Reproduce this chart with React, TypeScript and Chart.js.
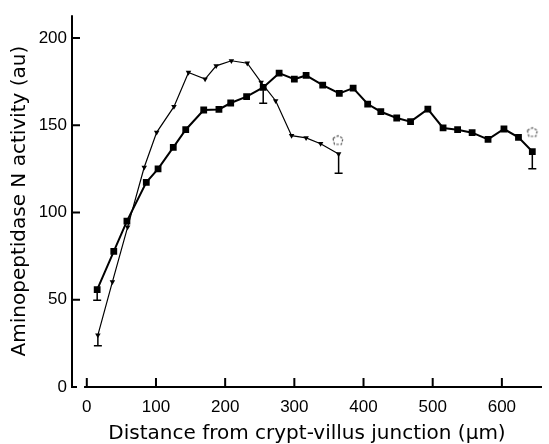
import React, { useEffect, useRef } from 'react';
import { Chart, registerables } from 'chart.js';

Chart.register(...registerables);

// Square series (long profile)
const squareX = [15, 39, 58, 86, 103, 125, 143, 169, 191, 208, 231, 255, 278, 300, 317, 341, 365, 385, 406, 425, 448, 468, 493, 515, 536, 557, 580, 603, 624, 644];
const squareY = [55.8, 77.7, 95, 117.2, 125, 137.3, 147.4, 158.7, 159, 162.7, 166.3, 171.6, 179.8, 176.4, 178.5, 172.9, 168.2, 171.2, 162.1, 157.7, 154.1, 152, 159.2, 148.4, 147.4, 145.7, 141.9, 147.8, 143, 134.9];

// Triangle series (short profile)
const triangleX = [16, 37, 59, 83, 101, 126, 147, 171, 187, 209, 232, 252, 273, 296, 317, 338, 364];
const triangleY = [29.7, 60.2, 91.6, 125.9, 145.9, 160.6, 180.2, 176.4, 184, 186.9, 185.5, 174.5, 164, 144, 142.7, 139.4, 133.5];

// Open (dashed) markers
const openX = [363, 644];
const openY = [141.3, 145.9];

// Error bars
const errX = [15, 255, 644, 16, 364];
const errLow = [49.7, 162.5, 125, 23.6, 122.4];
const errHigh = [55.8, 170, 134.9, 29.7, 133.5];

// Axis ticks
const xTicks = [0, 100, 200, 300, 400, 500, 600];
const yTicks = [0, 50, 100, 150, 200];

const xTitle = 'Distance from crypt-villus junction (\u03BCm)';
const yTitle = 'Aminopeptidase N activity (au)';

function makeOpenMarker(): HTMLCanvasElement {
  const c = document.createElement('canvas');
  c.width = 14;
  c.height = 12;
  const ctx = c.getContext('2d')!;
  ctx.strokeStyle = '#555';
  ctx.lineWidth = 1.2;
  ctx.setLineDash([2.5, 1.5]);
  ctx.beginPath();
  ctx.moveTo(2, 4);
  ctx.lineTo(7, 1.5);
  ctx.lineTo(12, 4);
  ctx.lineTo(10.5, 10);
  ctx.lineTo(3.5, 10);
  ctx.closePath();
  ctx.stroke();
  return c;
}

const axesPlugin = {
  id: 'customAxes',
  afterDatasetsDraw(chart: any) {
    const { ctx, chartArea } = chart;
    const xs = chart.scales.x;
    const ys = chart.scales.y;
    ctx.save();
    ctx.strokeStyle = '#000';
    ctx.lineWidth = 2;
    ctx.lineCap = 'butt';
    // y axis line with small foot
    ctx.beginPath();
    ctx.moveTo(chartArea.left, chartArea.top);
    ctx.lineTo(chartArea.left, chartArea.bottom);
    ctx.lineTo(chartArea.left + 5, chartArea.bottom);
    ctx.stroke();
    // x axis line (offset start)
    ctx.beginPath();
    ctx.moveTo(xs.getPixelForValue(-4), chartArea.bottom);
    ctx.lineTo(chartArea.right, chartArea.bottom);
    ctx.stroke();
    // inward ticks
    ctx.beginPath();
    xTicks.forEach((v) => {
      const px = xs.getPixelForValue(v);
      ctx.moveTo(px, chartArea.bottom);
      ctx.lineTo(px, chartArea.bottom - 9);
    });
    yTicks.forEach((v) => {
      if (v === 0) return;
      const py = ys.getPixelForValue(v);
      ctx.moveTo(chartArea.left, py);
      ctx.lineTo(chartArea.left + 8, py);
    });
    ctx.stroke();
    // error bars
    ctx.lineWidth = 1.5;
    ctx.beginPath();
    errX.forEach((ex, i) => {
      const px = xs.getPixelForValue(ex);
      const pl = ys.getPixelForValue(errLow[i]);
      const ph = ys.getPixelForValue(errHigh[i]);
      ctx.moveTo(px, ph);
      ctx.lineTo(px, pl);
      ctx.moveTo(px - 4, pl);
      ctx.lineTo(px + 4, pl);
    });
    ctx.stroke();
    ctx.restore();
  },
};

export default function App() {
  const ref = useRef<HTMLCanvasElement>(null);
  useEffect(() => {
    const openMarker = makeOpenMarker();
    const chart = new Chart(ref.current!, {
      type: 'line',
      data: {
        datasets: [
          {
            data: squareX.map((x, i) => ({ x, y: squareY[i] })),
            borderColor: '#000',
            backgroundColor: '#000',
            borderWidth: 2,
            pointStyle: 'rect',
            pointRadius: 4.8,
            pointBorderWidth: 0,
            pointBackgroundColor: '#000',
            tension: 0,
          },
          {
            data: triangleX.map((x, i) => ({ x, y: triangleY[i] })),
            borderColor: '#000',
            backgroundColor: '#000',
            borderWidth: 1.2,
            pointStyle: 'triangle',
            pointRotation: 180,
            pointRadius: 3.2,
            pointBorderWidth: 0,
            pointBackgroundColor: '#000',
            tension: 0,
          },
          {
            data: openX.map((x, i) => ({ x, y: openY[i] })),
            showLine: false,
            pointStyle: openMarker as any,
            pointRadius: 6,
            borderColor: '#555',
            backgroundColor: 'rgba(0,0,0,0)',
          },
        ],
      },
      plugins: [axesPlugin],
      options: {
        animation: false,
        responsive: false,
        devicePixelRatio: 1,
        layout: { padding: { top: 14, right: 0, left: 0, bottom: 0 } },
        plugins: { legend: { display: false }, tooltip: { enabled: false } },
        scales: {
          x: {
            type: 'linear',
            min: -21.4,
            max: 658,
            afterBuildTicks: (s: any) => {
              s.ticks = xTicks.map((v) => ({ value: v }));
            },
            afterFit: (s: any) => {
              s.height = 57;
            },
            grid: { display: false, drawTicks: false },
            border: { display: false },
            ticks: {
              padding: 10,
              color: '#000',
              font: { family: '"Liberation Sans", Arial, sans-serif', size: 17 },
              maxRotation: 0,
            },
            title: {
              display: true,
              text: xTitle,
              color: '#000',
              font: { family: '"DejaVu Sans", sans-serif', size: 20, lineHeight: 1 },
              padding: { top: 0, bottom: 0 },
            },
          },
          y: {
            type: 'linear',
            min: 0,
            max: 213,
            afterBuildTicks: (s: any) => {
              s.ticks = yTicks.map((v) => ({ value: v }));
            },
            afterFit: (s: any) => {
              s.width = 72;
            },
            grid: { display: false, drawTicks: false },
            border: { display: false },
            ticks: {
              padding: 5,
              color: '#000',
              font: { family: '"Liberation Sans", Arial, sans-serif', size: 17 },
            },
            title: {
              display: true,
              text: yTitle,
              color: '#000',
              font: { family: '"DejaVu Sans", sans-serif', size: 20, lineHeight: 1.2 },
              padding: { top: 8, bottom: 0 },
            },
          },
        },
      },
    });
    return () => chart.destroy();
  }, []);
  return (
    <div style={{ position: 'absolute', left: 0, top: 0, width: 549, height: 444, background: '#fff' }}>
      <canvas ref={ref} width={549} height={444} />
    </div>
  );
}
